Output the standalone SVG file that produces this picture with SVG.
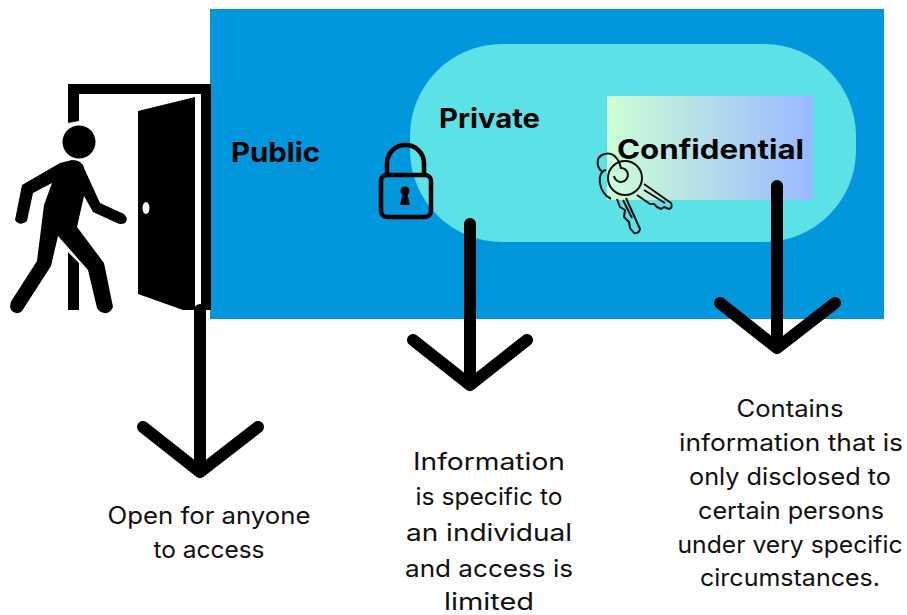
<svg xmlns="http://www.w3.org/2000/svg" width="907" height="615" viewBox="0 0 907 615">
<style>
.t{font-family:"Inter","Open Sans","Liberation Sans",sans-serif;font-size:24px;fill:#111;text-anchor:middle}
.b{font-family:"Inter","Open Sans","Liberation Sans",sans-serif;font-weight:700;font-size:27px;fill:#000}
.a{fill:none;stroke:#000;stroke-width:12px;stroke-linecap:round;stroke-linejoin:round}
.k{fill:none;stroke:#111;stroke-width:2px;stroke-linejoin:round}
</style>
<defs><linearGradient id="g" x1="0" y1="0" x2="1" y2="0"><stop offset="0" stop-color="#ccffd6"/><stop offset="1" stop-color="#99b8ff"/></linearGradient></defs>
<rect width="907" height="615" fill="#fff"/>
<g id="public">
<rect x="210" y="9" width="674" height="310" fill="#0297dc"/>
<text class="b" x="231" y="162" textLength="89" lengthAdjust="spacingAndGlyphs">Public</text>
</g>
<g id="private">
<rect x="410" y="44" width="446" height="198" rx="92" fill="#5ce1e6"/>
<text class="b" x="439" y="128" textLength="101" lengthAdjust="spacingAndGlyphs">Private</text>
</g>
<g id="confidential">
<rect x="607" y="96" width="206" height="104" fill="url(#g)"/>
<text class="b" x="617" y="159" font-size="30" textLength="187" lengthAdjust="spacingAndGlyphs">Confidential</text>
</g>
<g id="door">
<path d="M68 123V84H211V310H201V94H79V121ZM68 252L79 263V310H68Z" fill="#000"/>
<path d="M138 111L195 97V310H183L138 294Z" fill="#000"/>
<ellipse cx="146" cy="208" rx="3.500" ry="6" fill="#fff"/>
</g>
<g id="person">
<circle cx="79" cy="142" r="16.500" fill="#000"/>
<path d="M60 163L72 160Q82 160 84 168L100 203L124 214Q129 219 125 223Q121 225 117 223L93 212L84 196L77 227L104 263L113 307Q110 314 104 313Q99 312 97 308L88 270L58 236L51 266L22 311Q16 316 11 310Q9 305 12 300L37 261L44 205L52 183L33 193L27 221Q20 227 15 220L22 185Z" fill="#000"/>
</g>
<g id="lock">
<rect x="381" y="175" width="50" height="42" rx="6" fill="none" stroke="#000" stroke-width="4.500"/>
<path d="M387 173V163A18.500 18 0 0 1 424 163V173" fill="none" stroke="#000" stroke-width="4.500"/>
<circle cx="405" cy="191" r="4.500" fill="#000"/>
<path d="M403 193H407L410 205H400Z" fill="#000"/>
</g>
<g id="keys">
<circle cx="625" cy="178" r="17" class="k"/>
<path class="k" d="M620 168A7 7 0 1 1 614 176"/>
<path class="k" d="M603 172C596 168 596 158 602 155C610 151 618 155 621 168"/>
<path class="k" d="M644 184L671 203Q673 208 669 209L664 207L661 209L657 207L654 204L650 204L637 195"/>
<path class="k" d="M606 170C596 172 598 192 611 199"/>
<path class="k" d="M626 198L640 229Q639 234 634 233L630 228L629 222L624 217L625 210L620 207L617 199"/>
<path class="k" d="M623 200L632 218M644 190L665 203"/>
</g>
<g id="connectors">
<path class="a" d="M200 310V472M143 427L200 472L258 427"/>
<path class="a" d="M470 224V385M413 340L470 385L527 340"/>
<path class="a" d="M777 186V348M720 303L777 348L835 303"/>
</g>
<g id="labels">
<text class="t" x="209" y="524" textLength="203" lengthAdjust="spacingAndGlyphs">Open for anyone</text>
<text class="t" x="209" y="558" textLength="111" lengthAdjust="spacingAndGlyphs">to access</text>
<text class="t" x="489" y="470" textLength="152" lengthAdjust="spacingAndGlyphs">Information</text>
<text class="t" x="489" y="505" textLength="147" lengthAdjust="spacingAndGlyphs">is specific to</text>
<text class="t" x="489" y="541" textLength="166" lengthAdjust="spacingAndGlyphs">an individual</text>
<text class="t" x="489" y="577" textLength="168" lengthAdjust="spacingAndGlyphs">and access is</text>
<text class="t" x="489" y="610" textLength="90" lengthAdjust="spacingAndGlyphs">limited</text>
<text class="t" x="790" y="417" textLength="107" lengthAdjust="spacingAndGlyphs">Contains</text>
<text class="t" x="791" y="451" textLength="224" lengthAdjust="spacingAndGlyphs">information that is</text>
<text class="t" x="790" y="485" textLength="202" lengthAdjust="spacingAndGlyphs">only disclosed to</text>
<text class="t" x="791" y="519" textLength="186" lengthAdjust="spacingAndGlyphs">certain persons</text>
<text class="t" x="790" y="553" textLength="225" lengthAdjust="spacingAndGlyphs">under very specific</text>
<text class="t" x="790" y="586" textLength="180" lengthAdjust="spacingAndGlyphs">circumstances.</text>
</g>
</svg>
